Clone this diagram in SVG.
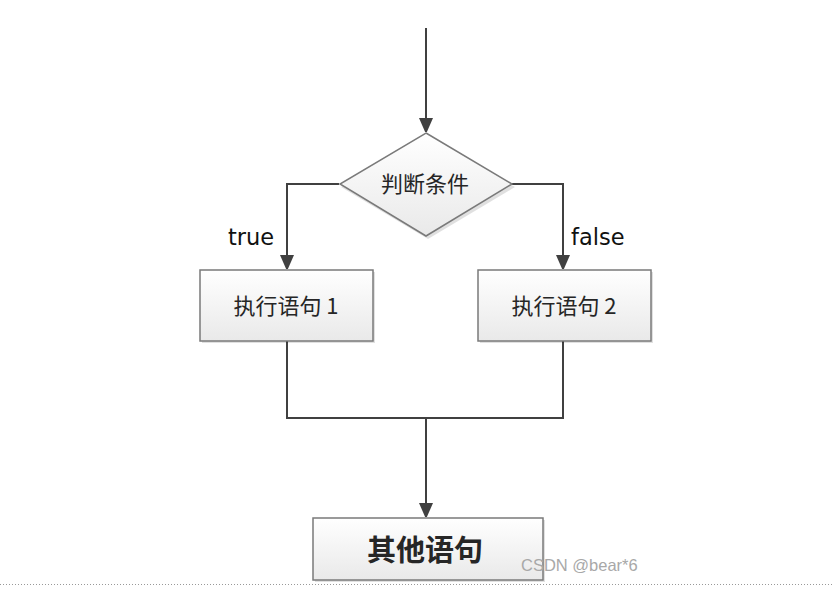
<svg xmlns="http://www.w3.org/2000/svg" width="832" height="589" viewBox="0 0 832 589">
<style>
.node{fill:url(#g);stroke:#7a7a7a;stroke-width:1.5}
.sh{fill:#000;opacity:0.12}
.t{font-family:"Noto Sans CJK SC","Liberation Sans",sans-serif;fill:#262626;text-anchor:middle}
.c{fill:none;stroke:#404040;stroke-width:2}
.lbl{font-family:"DejaVu Sans","Liberation Sans",sans-serif;font-size:22.5px;fill:#111}
</style>
<defs>
<linearGradient id="g" x1="0" y1="0" x2="0" y2="1">
<stop offset="0" stop-color="#ffffff"/>
<stop offset="1" stop-color="#e9e9e9"/>
</linearGradient>
<marker id="a" viewBox="0 0 14 16" refX="13" refY="7" markerWidth="14" markerHeight="16" markerUnits="userSpaceOnUse" orient="auto">
<path d="M0,0 L16,7 L0,14 z" fill="#404040"/>
</marker>
</defs>
<rect width="832" height="589" fill="#fff"/>
<g id="connectors">
<path class="c" d="M426,28 V131" marker-end="url(#a)"/>
<path class="c" d="M339,184 H287 V268" marker-end="url(#a)"/>
<path class="c" d="M512,184 H563 V268" marker-end="url(#a)"/>
<path class="c" d="M287,341 V418 H563 V341"/>
<path class="c" d="M426,418 V516" marker-end="url(#a)"/>
<text class="lbl" x="228" y="245">true</text>
<text class="lbl" x="571" y="245">false</text>
</g>
<g id="cond">
<polygon class="sh" points="428,136 515,187 428,239 341,187"/>
<polygon class="node" points="426,133 512,184 426,236 340,184"/>
<text class="t" x="425" y="192" font-size="22">判断条件</text>
</g>
<g id="stmt1">
<rect class="sh" x="202" y="272" width="173" height="71"/>
<rect class="node" x="200" y="270" width="173" height="71"/>
<text class="t" x="286" y="314" font-size="22">执行语句 1</text>
</g>
<g id="stmt2">
<rect class="sh" x="480" y="272" width="173" height="71"/>
<rect class="node" x="478" y="270" width="173" height="71"/>
<text class="t" x="564" y="314" font-size="22">执行语句 2</text>
</g>
<g id="other">
<rect class="sh" x="315" y="520" width="230" height="62"/>
<rect class="node" x="313" y="518" width="230" height="62"/>
<text class="t" x="425" y="561" font-size="29" font-weight="bold">其他语句</text>
</g>
<line x1="0" y1="584.5" x2="832" y2="584.5" stroke="#999" stroke-width="1" stroke-dasharray="1,2"/>
<text x="521" y="571" font-family="'Liberation Sans',sans-serif" font-size="16.5" fill="#a8a8a8">CSDN @bear*6</text>
</svg>
